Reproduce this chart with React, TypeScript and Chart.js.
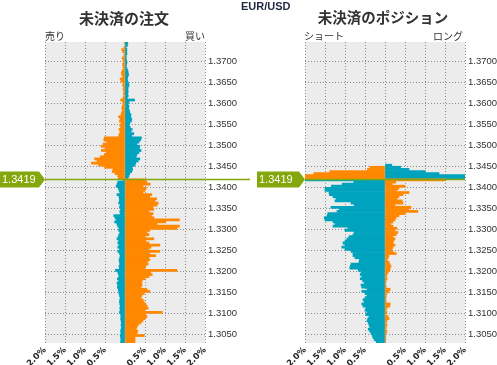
import React, { useEffect, useRef } from 'react';
import { Chart, registerables } from 'chart.js';

Chart.register(...registerables);

const CURRENT_PRICE = 1.3419;
const TOP_BUCKET = 1.37425;
const BUCKET_STEP = 0.0005;
const Y_MIN = 1.30297;
const Y_MAX = 1.37455;

const yTickValues = [1.305, 1.31, 1.315, 1.32, 1.325, 1.33, 1.335, 1.34, 1.345, 1.35, 1.355, 1.36, 1.365, 1.37];
const xTickValues = [-2, -1.5, -1, -0.5, 0, 0.5, 1, 1.5, 2];

// Open orders (%), buckets above current price, top -> down
const ordersOrangeAbove = [
  0.02, 0.0, 0.03, 0.08, 0.06, 0.02, 0.03, 0.07, 0.05, 0.04,
  0.06, 0.05, 0.04, 0.07, 0.09, 0.08, 0.06, 0.12, 0.10, 0.05,
  0.06, 0.04, 0.05, 0.03, 0.04, 0.03, 0.05, 0.11, 0.06, 0.05,
  0.07, 0.08, 0.06, 0.09, 0.10, 0.16, 0.12, 0.14, 0.10, 0.13,
  0.11, 0.15, 0.12, 0.14, 0.16, 0.52, 0.53, 0.45, 0.55, 0.60,
  0.50, 0.59, 0.47, 0.52, 0.62, 0.76, 0.70, 0.84, 0.66, 0.51,
  0.30, 0.32, 0.25, 0.18, 0.17,
];
const ordersTealAbove = [
  0.07, 0.06, 0.03, 0.05, 0.04, 0.05, 0.03, 0.03, 0.04, 0.05,
  0.04, 0.03, 0.05, 0.07, 0.08, 0.09, 0.07, 0.06, 0.07, 0.09,
  0.10, 0.08, 0.07, 0.08, 0.07, 0.08, 0.06, 0.24, 0.10, 0.08,
  0.10, 0.09, 0.11, 0.12, 0.15, 0.14, 0.17, 0.16, 0.12, 0.11,
  0.13, 0.18, 0.15, 0.22, 0.17, 0.41, 0.39, 0.35, 0.30, 0.37,
  0.36, 0.40, 0.35, 0.30, 0.28, 0.37, 0.33, 0.27, 0.25, 0.18,
  0.19, 0.17, 0.12, 0.10, 0.08,
];
// Open orders (%), buckets below current price, top -> down
const ordersOrangeBelow = [
  0.52, 0.55, 0.63, 0.45, 0.53, 0.50, 0.45, 0.67, 0.62, 0.79,
  0.75, 0.83, 0.80, 0.70, 0.72, 0.60, 0.70, 0.66, 0.72, 1.36,
  1.02, 0.80, 1.36, 1.30, 0.62, 0.55, 0.60, 0.50, 0.72, 0.52,
  0.60, 0.87, 0.65, 0.60, 0.87, 0.62, 0.77, 0.60, 0.62, 0.56,
  0.58, 0.52, 0.50, 1.30, 0.64, 0.68, 0.60, 0.50, 0.43, 0.42,
  0.43, 0.40, 0.55, 0.62, 0.48, 0.42, 0.40, 0.45, 0.48, 0.52,
  0.55, 0.58, 0.50, 0.93, 0.52, 0.55, 0.50, 0.45, 0.40, 0.33,
  0.30, 0.28, 0.32, 0.30, 0.48, 0.25, 0.25, 0.25,
];
const ordersTealBelow = [
  0.04, 0.18, 0.20, 0.22, 0.17, 0.15, 0.13, 0.20, 0.15, 0.14,
  0.14, 0.16, 0.12, 0.14, 0.11, 0.13, 0.12, 0.28, 0.25, 0.22,
  0.26, 0.20, 0.18, 0.15, 0.16, 0.13, 0.15, 0.17, 0.20, 0.16,
  0.18, 0.15, 0.18, 0.14, 0.18, 0.14, 0.12, 0.13, 0.15, 0.14,
  0.13, 0.15, 0.14, 0.24, 0.18, 0.16, 0.15, 0.19, 0.16, 0.20,
  0.18, 0.19, 0.17, 0.16, 0.15, 0.14, 0.12, 0.13, 0.14, 0.13,
  0.12, 0.13, 0.12, 0.14, 0.11, 0.10, 0.11, 0.10, 0.09, 0.10,
  0.09, 0.10, 0.11, 0.10, 0.12, 0.11, 0.10, 0.11,
];

// Open positions (%), buckets above current price, top -> down
const positionsOrangeAbove = [
  0, 0, 0, 0, 0, 0, 0, 0, 0, 0,
  0, 0, 0, 0, 0, 0, 0, 0, 0, 0,
  0, 0, 0, 0, 0, 0, 0, 0, 0, 0,
  0, 0, 0, 0, 0, 0, 0, 0, 0, 0,
  0, 0, 0, 0, 0, 0, 0, 0, 0, 0,
  0, 0, 0, 0, 0, 0, 0, 0, 0, 0.38,
  0.44, 1.38, 1.78, 2.05, 2.6,
];
const positionsTealAbove = [
  0, 0, 0, 0, 0, 0, 0, 0, 0, 0,
  0, 0, 0, 0, 0, 0, 0, 0, 0, 0,
  0, 0, 0, 0, 0, 0, 0, 0, 0, 0,
  0, 0, 0, 0, 0, 0, 0, 0, 0, 0,
  0, 0, 0, 0, 0, 0, 0, 0, 0, 0,
  0, 0, 0, 0, 0, 0, 0, 0, 0.17, 0.39,
  0.60, 1.0, 1.35, 2.3, 2.6,
];
// Open positions (%), buckets below current price, top -> down
const positionsOrangeBelow = [
  1.5, 0.27, 0.18, 0.5, 0.35, 0.3, 0.6, 0.45, 0.35, 0.3,
  0.43, 0.45, 0.25, 0.65, 0.6, 0.82, 0.5, 0.35, 0.28, 0.25,
  0.2, 0.15, 0.2, 0.3, 0.25, 0.32, 0.28, 0.2, 0.25, 0.22,
  0.2, 0.25, 0.2, 0.18, 0.2, 0.28, 0.1, 0.08, 0.05, 0.1,
  0.12, 0.15, 0.13, 0.12, 0.08, 0.05, 0.03, 0.05, 0.03, 0.02,
  0.02, 0.03, 0.13, 0.1, 0.05, 0.03, 0.03, 0.02, 0.03, 0.13,
  0.12, 0.05, 0.03, 0.05, 0.03, 0.08, 0.1, 0.05, 0.03, 0.05,
  0.03, 0.03, 0.05, 0.03, 0.02, 0.02, 0.02, 0.01,
];
const positionsTealBelow = [
  2.6, 0.78, 1.07, 1.34, 1.5, 1.5, 1.4, 1.39, 1.3, 1.22,
  1.25, 0.85, 0.77, 1.35, 1.14, 1.2, 1.43, 1.45, 1.52, 1.5,
  1.3, 1.25, 1.3, 0.93, 1.0, 0.77, 0.8, 0.9, 0.95, 1.0,
  1.05, 1.0, 1.08, 1.0, 0.85, 0.8, 0.8, 0.75, 0.64, 0.65,
  0.85, 0.87, 0.88, 0.67, 0.6, 0.62, 0.58, 0.62, 0.56, 0.52,
  0.6, 0.58, 0.45, 0.58, 0.5, 0.45, 0.5, 0.55, 0.52, 0.58,
  0.55, 0.48, 0.5, 0.45, 0.48, 0.4, 0.43, 0.45, 0.42, 0.4,
  0.38, 0.42, 0.38, 0.35, 0.32, 0.3, 0.27, 0.22,
];

const ORANGE = '#ff8800';
const TEAL = '#00a3bd';
const GREEN = '#84a70c';
const PLOT_BG = '#ececec';
const GRID = '#8c8c8c';

function buildSeries(above: number[], below: number[], aboveSign: number) {
  const pts: { x: number | null; y: number }[] = [];
  above.forEach((v, k) =>
    pts.push({ x: v === 0 ? null : v * aboveSign, y: TOP_BUCKET - k * BUCKET_STEP })
  );
  below.forEach((v, k) =>
    pts.push({ x: v === 0 ? null : -v * aboveSign, y: TOP_BUCKET - (above.length + k) * BUCKET_STEP })
  );
  return pts;
}

type PanelProps = {
  left: number;
  width: number;
  padLeft: number;
  yAxisWidth: number;
  labelLeft: number;
  lineToEdge: boolean;
  orangeAbove: number[];
  tealAbove: number[];
  orangeBelow: number[];
  tealBelow: number[];
};

function Panel(p: PanelProps) {
  const ref = useRef<HTMLCanvasElement | null>(null);
  useEffect(() => {
    if (!ref.current) return;
    const bgPlugin = {
      id: 'plotBg',
      beforeDraw(chart: any) {
        const { ctx, chartArea: a } = chart;
        ctx.save();
        ctx.fillStyle = PLOT_BG;
        ctx.fillRect(a.left, a.top, a.right - a.left, a.bottom - a.top);
        ctx.restore();
      },
    };
    const pricePlugin = {
      id: 'priceLine',
      afterDatasetsDraw(chart: any) {
        const { ctx, chartArea: a } = chart;
        const y = Math.round(chart.scales.y.getPixelForValue(CURRENT_PRICE)) + 0.5;
        ctx.save();
        ctx.strokeStyle = GREEN;
        ctx.lineWidth = 1.3;
        ctx.beginPath();
        ctx.moveTo(a.left, y);
        ctx.lineTo(p.lineToEdge ? chart.width : a.right, y);
        ctx.stroke();
        const h = 8;
        ctx.fillStyle = GREEN;
        ctx.beginPath();
        ctx.moveTo(p.labelLeft, y - h);
        ctx.lineTo(a.left - 6, y - h);
        ctx.lineTo(a.left, y);
        ctx.lineTo(a.left - 6, y + h);
        ctx.lineTo(p.labelLeft, y + h);
        ctx.closePath();
        ctx.fill();
        ctx.fillStyle = '#ffffff';
        ctx.font = '11px "Liberation Sans", Arial, sans-serif';
        ctx.textAlign = 'left';
        ctx.textBaseline = 'middle';
        ctx.fillText(CURRENT_PRICE.toFixed(4), p.labelLeft + 2, y + 0.5);
        ctx.restore();
      },
    };
    const chart = new Chart(ref.current, {
      type: 'bar',
      data: {
        datasets: [
          {
            data: buildSeries(p.orangeAbove, p.orangeBelow, -1),
            backgroundColor: ORANGE,
            grouped: false,
            barPercentage: 1,
            categoryPercentage: 1,
          } as any,
          {
            data: buildSeries(p.tealAbove, p.tealBelow, 1),
            backgroundColor: TEAL,
            grouped: false,
            barPercentage: 1,
            categoryPercentage: 1,
          } as any,
        ],
      },
      options: {
        indexAxis: 'y',
        animation: false,
        responsive: false,
        maintainAspectRatio: false,
        layout: { padding: { left: p.padLeft, top: 42, right: 0, bottom: 0 } },
        plugins: { legend: { display: false }, tooltip: { enabled: false }, title: { display: false } },
        scales: {
          x: {
            type: 'linear',
            min: -2,
            max: 2,
            offset: false,
            afterBuildTicks: (s: any) => {
              s.ticks = xTickValues.map((v) => ({ value: v }));
            },
            afterFit: (s: any) => {
              s.height = 22;
            },
            grid: { color: GRID, drawTicks: false, lineWidth: 1, offset: false },
            border: { display: false, dash: [1, 2] },
            ticks: {
              autoSkip: false,
              maxRotation: 45,
              minRotation: 45,
              padding: 2,
              color: '#222',
              font: { family: '"DejaVu Sans", sans-serif', size: 8.5, weight: 'bold' },
              callback: (v: any) => (Number(v) === 0 ? '' : Math.abs(Number(v)).toFixed(1) + '%'),
            },
          },
          y: {
            type: 'linear',
            position: 'right',
            min: Y_MIN,
            max: Y_MAX,
            offset: false,
            afterBuildTicks: (s: any) => {
              s.ticks = yTickValues.map((v) => ({ value: v }));
            },
            afterFit: (s: any) => {
              s.width = p.yAxisWidth;
            },
            grid: { color: GRID, drawTicks: false, lineWidth: 1, offset: false },
            border: { display: false, dash: [1, 2] },
            ticks: {
              padding: 3,
              color: '#333',
              font: { family: '"Liberation Sans", Arial, sans-serif', size: 9.5 },
              callback: (v: any) => Number(v).toFixed(4),
            },
          },
        },
      } as any,
      plugins: [bgPlugin, pricePlugin],
    });
    return () => chart.destroy();
  }, []);
  return (
    <canvas
      ref={ref}
      width={p.width}
      height={365}
      style={{ position: 'absolute', left: p.left, top: 0, width: p.width, height: 365 }}
    />
  );
}

const textBase: React.CSSProperties = {
  position: 'absolute',
  color: '#333',
  fontFamily: '"Noto Sans CJK JP", "Liberation Sans", sans-serif',
  whiteSpace: 'nowrap',
  lineHeight: 1,
};

export default function App() {
  return (
    <div
      style={{
        position: 'fixed',
        left: 0,
        top: 0,
        width: 497,
        height: 365,
        background: '#ffffff',
        overflow: 'hidden',
      }}
    >
      <Panel
        left={0}
        width={250}
        padLeft={45}
        yAxisWidth={45}
        labelLeft={0}
        lineToEdge={true}
        orangeAbove={ordersOrangeAbove}
        tealAbove={ordersTealAbove}
        orangeBelow={ordersOrangeBelow}
        tealBelow={ordersTealBelow}
      />
      <Panel
        left={250}
        width={247}
        padLeft={55}
        yAxisWidth={32}
        labelLeft={7}
        lineToEdge={false}
        orangeAbove={positionsOrangeAbove}
        tealAbove={positionsTealAbove}
        orangeBelow={positionsOrangeBelow}
        tealBelow={positionsTealBelow}
      />
      <div
        style={{
          ...textBase,
          left: 241,
          top: 1,
          fontFamily: '"Liberation Sans", Arial, sans-serif',
          fontWeight: 'bold',
          fontSize: 11,
          color: '#1f2a40',
        }}
      >
        EUR/USD
      </div>
      <div style={{ ...textBase, left: 24, width: 200, top: 10, textAlign: 'center', fontSize: 15, fontWeight: 'bold' }}>
        未決済の注文
      </div>
      <div style={{ ...textBase, left: 283, width: 200, top: 10, textAlign: 'center', fontSize: 14.5, fontWeight: 'bold' }}>
        未決済のポジション
      </div>
      <div style={{ ...textBase, left: 45, top: 31, fontSize: 10 }}>売り</div>
      <div style={{ ...textBase, left: 105, width: 100, top: 31, textAlign: 'right', fontSize: 10 }}>買い</div>
      <div style={{ ...textBase, left: 304, top: 31, fontSize: 10 }}>ショート</div>
      <div style={{ ...textBase, left: 363, width: 100, top: 31, textAlign: 'right', fontSize: 10 }}>ロング</div>
    </div>
  );
}
